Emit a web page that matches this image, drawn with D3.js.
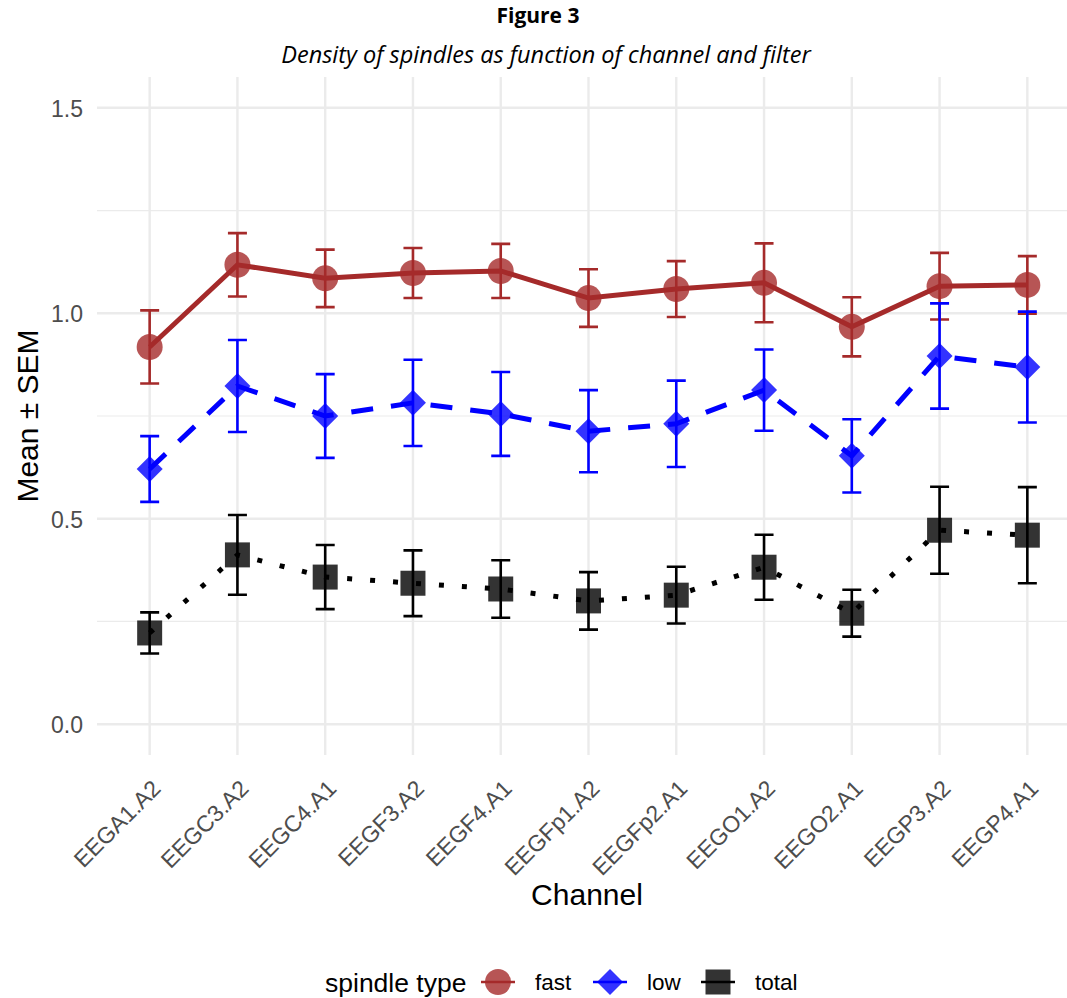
<!DOCTYPE html>
<html>
<head>
<meta charset="utf-8">
<script src="https://cdn.jsdelivr.net/npm/d3@7"></script>
<style>
  body { margin: 0; background: #fff; }
  svg { display: block; }
</style>
</head>
<body>
<svg id="chart" width="1067" height="998"></svg>
<script>
// channels on the x axis
const channels = ['EEGA1.A2', 'EEGC3.A2', 'EEGC4.A1', 'EEGF3.A2', 'EEGF4.A1', 'EEGFp1.A2',
  'EEGFp2.A1', 'EEGO1.A2', 'EEGO2.A1', 'EEGP3.A2', 'EEGP4.A1'];

// mean and SEM per spindle type
const fastMean = [0.918, 1.118, 1.085, 1.098, 1.103, 1.037, 1.059, 1.074, 0.967, 1.066, 1.069];
const fastSem  = [0.089, 0.077, 0.070, 0.061, 0.066, 0.070, 0.068, 0.096, 0.072, 0.081, 0.070];
const lowMean  = [0.621, 0.823, 0.750, 0.782, 0.755, 0.713, 0.731, 0.813, 0.653, 0.896, 0.869];
const lowSem   = [0.080, 0.112, 0.102, 0.105, 0.102, 0.100, 0.105, 0.099, 0.089, 0.128, 0.135];
const totalMean = [0.222, 0.412, 0.358, 0.343, 0.329, 0.300, 0.314, 0.382, 0.270, 0.472, 0.460];
const totalSem  = [0.050, 0.097, 0.078, 0.080, 0.070, 0.070, 0.069, 0.079, 0.057, 0.106, 0.117];

const yTicks = [0, 0.5, 1.0, 1.5];
const yMinor = [0.25, 0.75, 1.25];

const seriesList = [
  { name: 'fast', mean: fastMean, sem: fastSem, color: '#A52A2A', shape: 'circle', dash: null, width: 5 },
  { name: 'low', mean: lowMean, sem: lowSem, color: '#0000FF', shape: 'diamond', dash: '22,18', width: 5 },
  { name: 'total', mean: totalMean, sem: totalSem, color: '#000000', shape: 'square', dash: '5,18', width: 5 }
];

const svg = d3.select('#chart');
const panel = { left: 97, right: 1080, top: 77, bottom: 755 };
const font = 'Liberation Sans, Arial, Helvetica, sans-serif';

const x = d3.scalePoint()
  .domain(channels)
  .range([panel.left, panel.right])
  .padding(0.6);

const y = d3.scaleLinear()
  .domain([-0.075, 1.575])
  .range([panel.bottom, panel.top]);

// grid
const grid = svg.append('g');
grid.selectAll('line.minor')
  .data(yMinor)
  .enter().append('line')
  .attr('x1', panel.left).attr('x2', panel.right)
  .attr('y1', d => y(d)).attr('y2', d => y(d))
  .attr('stroke', '#EBEBEB').attr('stroke-width', 1.2);
grid.selectAll('line.major')
  .data(yTicks)
  .enter().append('line')
  .attr('x1', panel.left).attr('x2', panel.right)
  .attr('y1', d => y(d)).attr('y2', d => y(d))
  .attr('stroke', '#EBEBEB').attr('stroke-width', 2.4);
grid.selectAll('line.vx')
  .data(channels)
  .enter().append('line')
  .attr('x1', d => x(d)).attr('x2', d => x(d))
  .attr('y1', panel.top).attr('y2', panel.bottom)
  .attr('stroke', '#EBEBEB').attr('stroke-width', 2.4);

// y axis labels
const yAxis = svg.append('g')
  .attr('transform', `translate(${panel.left - 14},0)`)
  .call(d3.axisLeft(y).tickValues(yTicks).tickFormat(d3.format('.1f')).tickSize(0).tickPadding(0));
yAxis.select('.domain').remove();
yAxis.selectAll('text')
  .attr('fill', '#4D4D4D')
  .style('font-family', font)
  .style('font-size', '23px')
  .attr('dy', '0.36em');

// x axis labels, rotated 45 degrees
const xAxis = svg.append('g')
  .attr('transform', `translate(0,${panel.bottom})`)
  .call(d3.axisBottom(x).tickSize(0).tickPadding(0));
xAxis.select('.domain').remove();
xAxis.selectAll('text')
  .attr('fill', '#4D4D4D')
  .style('font-family', font)
  .style('font-size', '23px')
  .attr('text-anchor', 'end')
  .attr('y', 0)
  .attr('dy', 0)
  .attr('transform', 'translate(12,35) rotate(-45)');

function symbolPath(shape) {
  if (shape === 'circle') return d3.symbol().type(d3.symbolCircle).size(Math.PI * 13 * 13)();
  if (shape === 'diamond') return 'M0,-13L13,0L0,13L-13,0Z';
  return 'M-12.5,-12.5H12.5V12.5H-12.5Z';
}

const lines = svg.append('g');
const bars = svg.append('g');
const points = svg.append('g');

seriesList.forEach(s => {
  const rows = channels.map((c, i) => ({ c, m: s.mean[i], e: s.sem[i] }));
  lines.append('path')
    .datum(rows)
    .attr('fill', 'none')
    .attr('stroke', s.color)
    .attr('stroke-width', s.width)
    .attr('stroke-dasharray', s.dash)
    .attr('d', d3.line().x(d => x(d.c)).y(d => y(d.m)));

  const eb = bars.append('g').attr('stroke', s.color).attr('stroke-width', 2.6).attr('fill', 'none');
  eb.selectAll('path')
    .data(rows)
    .enter().append('path')
    .attr('d', d => {
      const cx = x(d.c), t = y(d.m + d.e), b = y(d.m - d.e), w = 9.5;
      return `M${cx - w},${t}H${cx + w}M${cx},${t}V${b}M${cx - w},${b}H${cx + w}`;
    });

  points.append('g').selectAll('path')
    .data(rows)
    .enter().append('path')
    .attr('transform', d => `translate(${x(d.c)},${y(d.m)})`)
    .attr('d', symbolPath(s.shape))
    .attr('fill', s.color)
    .attr('fill-opacity', 0.8);
});

// titles
svg.append('text')
  .attr('x', 538).attr('y', 23)
  .attr('text-anchor', 'middle')
  .style('font-family', 'Open Sans, sans-serif')
  .style('font-weight', 'bold')
  .style('font-size', '21px')
  .text('Figure 3');
svg.append('text')
  .attr('x', 546).attr('y', 63)
  .attr('text-anchor', 'middle')
  .style('font-family', 'Open Sans, sans-serif')
  .style('font-style', 'italic')
  .style('font-size', '23.5px')
  .text('Density of spindles as function of channel and filter');

// axis titles
svg.append('text')
  .attr('x', 587).attr('y', 905)
  .attr('text-anchor', 'middle')
  .style('font-family', font)
  .style('font-size', '30px')
  .text('Channel');
svg.append('text')
  .attr('transform', `translate(38,${(panel.top + panel.bottom) / 2}) rotate(-90)`)
  .attr('text-anchor', 'middle')
  .style('font-family', font)
  .style('font-size', '30px')
  .text('Mean ± SEM');

// legend
const legend = svg.append('g').attr('transform', 'translate(0,982)');
legend.append('text')
  .attr('x', 325).attr('y', 10)
  .style('font-family', font)
  .style('font-size', '26.5px')
  .text('spindle type');
const legendX = [498, 610, 718];
seriesList.forEach((s, i) => {
  const g = legend.append('g').attr('transform', `translate(${legendX[i]},0)`);
  g.append('line')
    .attr('x1', -17).attr('x2', 17)
    .attr('stroke', s.color).attr('stroke-width', 2.6);
  g.append('path')
    .attr('d', symbolPath(s.shape))
    .attr('fill', s.color)
    .attr('fill-opacity', 0.8);
  g.append('text')
    .attr('x', 37).attr('y', 8)
    .style('font-family', font)
    .style('font-size', '22.5px')
    .text(s.name);
});
</script>
</body>
</html>
